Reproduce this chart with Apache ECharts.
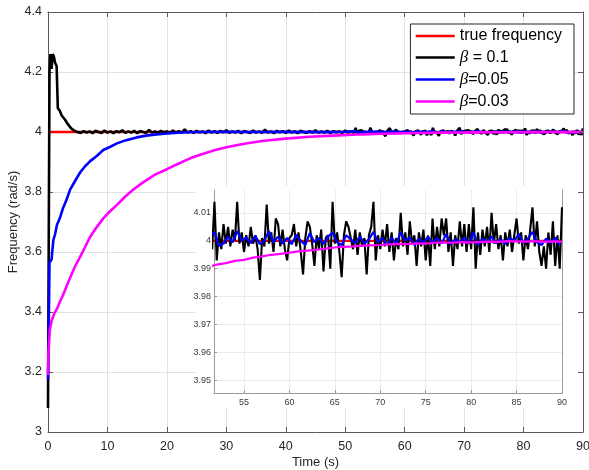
<!DOCTYPE html>
<html><head><meta charset="utf-8">
<script src="https://cdn.jsdelivr.net/npm/echarts@6/dist/echarts.min.js"></script>
<style>html,body{margin:0;padding:0;background:#fff}#c{width:589px;height:470px}</style>
</head><body><div id="c"></div>
<script>
// ---------- data ----------
const seriesNames = ['true frequency', 'β = 0.1', 'β=0.05', 'β=0.03'];
const mainXTicks = [0, 10, 20, 30, 40, 50, 60, 70, 80, 90];
const mainYTicks = [3, 3.2, 3.4, 3.6, 3.8, 4, 4.2, 4.4];

const trueT = [0, 90];
const trueV = [4, 4];

// beta = 0.1 : transient
const blackEarlyT = [0, 0.25, 0.4, 0.6, 0.8, 1.0, 1.2, 1.45, 1.65, 2.0, 2.3, 2.6, 2.9, 3.2, 3.5, 3.9, 4.3, 4.7];
const blackEarlyV = [3.08, 4.20, 4.26, 4.21, 4.26, 4.25, 4.23, 4.22, 4.08, 4.07, 4.055, 4.05, 4.04, 4.03, 4.022, 4.012, 4.006, 4.002];
// beta = 0.1 : t = 5 .. 51.5 every 0.5 s
const blackMidStart = 5, blackMidStep = 0.5;
const blackMidV = [4.001, 3.997, 4.003, 3.998, 4.002, 3.996, 4.004, 4.000, 3.997, 4.005,
  3.998, 4.002, 3.996, 4.003, 3.999, 4.006, 3.997, 4.002, 3.998, 4.004,
  3.996, 4.003, 4.000, 3.997, 4.007, 3.998, 4.002, 3.997, 4.004, 3.999,
  4.002, 3.996, 4.005, 3.998, 4.003, 3.997, 4.009, 3.998, 4.003, 3.997,
  4.004, 3.999, 4.002, 3.996, 4.005, 3.998, 4.003, 3.997, 4.004, 3.999,
  4.006, 3.997, 4.002, 3.998, 4.004, 3.996, 4.003, 4.000, 3.997, 4.005,
  3.998, 4.002, 3.997, 4.008, 3.998, 4.002, 3.996, 4.004, 3.999, 4.003,
  3.997, 4.005, 3.998, 4.002, 3.996, 4.004, 4.000, 3.997, 4.003, 3.998,
  4.006, 3.997, 4.002, 3.998, 4.004, 3.996, 4.003, 3.999, 4.002, 3.997,
  4.005, 3.998, 4.003, 3.997];
// beta = 0.1 : t = 51.75 .. 90 every 0.25 s
const blackLateStart = 51.75, blackLateStep = 0.25;
const blackLateV = [4.014, 3.993, 4.003, 3.997, 4.006, 3.999, 4.005, 3.998, 4.004, 4.000,
  4.014, 3.999, 4.003, 3.996, 4.002, 3.998, 4.005, 3.999, 4.002, 3.997,
  3.986, 4.001, 3.998, 4.013, 3.999, 4.003, 3.996, 4.008, 4.006, 3.998,
  4.004, 3.997, 3.993, 4.001, 4.002, 4.006, 3.998, 4.003, 3.996, 3.988,
  4.001, 4.007, 4.005, 3.999, 3.991, 4.002, 3.997, 4.004, 3.989, 4.001,
  4.002, 3.990, 4.014, 3.999, 4.003, 3.996, 3.987, 4.002, 4.007, 4.005,
  4.001, 3.997, 4.004, 3.995, 4.003, 3.998, 4.001, 3.988, 4.002, 4.005,
  4.014, 3.993, 4.002, 3.997,
  4.004, 3.998, 4.006, 3.996, 4.003, 3.993, 4.001, 3.997, 4.010, 3.998,
  4.003, 3.995, 4.007, 3.999, 4.002, 3.991, 4.003, 3.998, 4.004, 3.993,
  4.002, 3.991, 4.008, 3.997, 4.005, 3.998, 4.008, 4.002, 4.008, 3.996,
  4.003, 3.991, 4.002, 3.997, 4.007, 3.998, 4.006, 3.996, 4.006, 3.997,
  4.012, 3.990, 4.003, 3.995, 4.004, 3.998, 4.005, 3.996, 4.010, 3.999,
  4.006, 3.997, 4.002, 3.993, 4.003, 3.998, 4.004, 3.996, 4.002, 4.008,
  3.999, 4.003, 3.993, 4.002, 3.997, 4.004, 4.012, 3.998, 4.007, 3.996,
  3.991, 3.998, 3.990, 4.003, 3.995, 4.007, 3.991, 4.002, 3.990, 4.012];

// beta = 0.05
const blueEarlyT = [0, 0.1, 0.25, 0.6, 0.9, 1.2, 1.5, 2.0, 2.5, 3.1, 3.7, 4.5, 5.4, 6.2, 7.1, 8.2, 9.3, 10.4, 11.6, 13.0, 14.9, 16.5, 18.3, 20.5, 23.3, 26, 30, 35, 40, 45, 50];
const blueEarlyV = [3.175, 3.30, 3.565, 3.575, 3.64, 3.66, 3.69, 3.713, 3.745, 3.773, 3.807, 3.835, 3.865, 3.885, 3.903, 3.92, 3.94, 3.95, 3.962, 3.972, 3.982, 3.988, 3.992, 3.996, 3.999, 4.0, 4.0005, 4.0, 4.0005, 3.9995, 4.0005];
const blueLateStart = 51.75, blueLateStep = 0.5;
const blueLateV = [4.0030, 3.9982, 3.9990, 4.0015, 3.9995, 4.0035, 4.0000, 4.0012, 3.9992, 4.0018,
  3.9988, 4.0000, 4.0035, 3.9995, 4.0015, 3.9990, 4.0010, 3.9988, 4.0022, 4.0000,
  3.9985, 4.0028, 3.9995, 4.0010, 3.9988, 4.0015, 4.0030, 3.9995, 3.9985, 4.0020,
  4.0005, 3.9992, 4.0015, 3.9990, 4.0005, 4.0032, 3.9995, 4.0010, 3.9985, 4.0012,
  3.9988, 4.0030, 4.0000, 4.0012, 3.9985, 4.0008, 3.9992, 4.0015, 3.9995, 4.0010,
  3.9990, 4.0025, 3.9988, 4.0005, 3.9995, 4.0012, 3.9990, 4.0030, 3.9985, 4.0008,
  3.9995, 4.0015, 3.9992, 4.0005, 3.9990, 4.0010, 4.0000, 4.0025, 3.9992, 4.0008,
  4.0032, 3.9995, 3.9985, 4.0008, 3.9992, 4.0012, 3.9985];

// beta = 0.03
const pinkEarlyT = [0, 0.05, 0.3, 0.6, 1.1, 1.5, 2.0, 2.5, 3.0, 3.7, 4.5, 5.4, 6.2, 7.1, 8.2, 9.3, 10.4, 11.6, 13, 14.4, 16, 18, 20, 22, 24, 26, 28, 30, 33, 36, 40, 44, 48];
const pinkEarlyV = [3.19, 3.25, 3.34, 3.37, 3.397, 3.41, 3.434, 3.455, 3.48, 3.513, 3.55, 3.584, 3.615, 3.651, 3.683, 3.712, 3.735, 3.757, 3.785, 3.809, 3.832, 3.858, 3.876, 3.895, 3.913, 3.927, 3.939, 3.949, 3.961, 3.970, 3.978, 3.984, 3.988];
const pinkLateStart = 52, pinkLateStep = 1;
const pinkLateV = [3.9915, 3.9920, 3.9928, 3.9932, 3.9940, 3.9944, 3.9950, 3.9953, 3.9958, 3.9962,
  3.9965, 3.9968, 3.9972, 3.9976, 3.9978, 3.9980, 3.9983, 3.9984, 3.9985, 3.9987,
  3.9989, 3.9988, 3.9991, 3.9990, 3.9993, 3.9994, 3.9993, 3.9995, 3.9994, 3.9996,
  3.9997, 3.9996, 3.9999, 3.9998, 3.9997, 3.9999, 3.9996, 3.9998, 3.9997];

// ---------- build ----------
function zip(ts, vs) { return vs.map((v, i) => [ts[i], v]); }
function sampled(start, step, vs) { return vs.map((v, i) => [+(start + i * step).toFixed(4), v]); }

const trueData = zip(trueT, trueV);
const blackData = zip(blackEarlyT, blackEarlyV).concat(sampled(blackMidStart, blackMidStep, blackMidV), sampled(blackLateStart, blackLateStep, blackLateV));
const blueData = zip(blueEarlyT, blueEarlyV).concat(sampled(blueLateStart, blueLateStep, blueLateV));
const pinkData = zip(pinkEarlyT, pinkEarlyV).concat(sampled(pinkLateStart, pinkLateStep, pinkLateV));
const allData = [trueData, blackData, blueData, pinkData];
const colors = ['#ff0000', '#000000', '#0000ff', '#ff00ff'];

const FONT = '"Liberation Sans", Arial, Helvetica, sans-serif';
const AX = '#5a5a5a';
const GRID = '#e2e2e2';
const INAX = '#9a9a9a';

const series = [];
allData.forEach((d, i) => {
  series.push({ name: seriesNames[i], type: 'line', xAxisIndex: 0, yAxisIndex: 0, data: d,
    symbol: 'none', showSymbol: false, z: 2, lineStyle: { color: colors[i], width: 2.6 }, itemStyle: { color: colors[i] } });
});
allData.forEach((d, i) => {
  series.push({ name: seriesNames[i], type: 'line', xAxisIndex: 2, yAxisIndex: 2, data: d,
    symbol: 'none', showSymbol: false, z: 6, clip: true, lineStyle: { color: colors[i], width: i === 1 ? 2.1 : 2.2 }, itemStyle: { color: colors[i] } });
});

const chart = echarts.init(document.getElementById('c'), null, { renderer: 'canvas' });
chart.setOption({
  animation: false,
  backgroundColor: '#ffffff',
  textStyle: { fontFamily: FONT },
  grid: [
    { left: 48, right: 6, top: 12, bottom: 38, containLabel: false, outerBoundsMode: 'none' },
    { left: 214, right: 27, top: 190, bottom: 77, containLabel: false, outerBoundsMode: 'none' }
  ],
  graphic: [
    { type: 'rect', z: 1, shape: { x: 195, y: 186, width: 387, height: 222 }, style: { fill: '#ffffff' }, silent: true }
  ],
  legend: {
    data: seriesNames, orient: 'vertical', right: 15, top: 24,
    itemWidth: 39, itemHeight: 16, itemGap: 5,
    padding: [4, 12, 4, 4],
    borderColor: '#262626', borderWidth: 1, backgroundColor: '#ffffff', z: 10,
    itemStyle: { opacity: 0 },
    lineStyle: { width: 2.6 },
    textStyle: { fontSize: 16, color: '#000', fontFamily: FONT,
      rich: { i: { fontStyle: 'italic', fontFamily: '"Liberation Serif", serif', fontSize: 17, color: '#000' } } },
    formatter: n => n.replace('β', '{i|β}')
  },
  xAxis: [
    { gridIndex: 0, type: 'value', min: mainXTicks[0], max: mainXTicks[mainXTicks.length - 1], interval: 10,
      axisLine: { onZero: false, lineStyle: { color: AX } },
      axisTick: { inside: true, length: 5, lineStyle: { color: AX } },
      axisLabel: { color: '#262626', fontSize: 12.5, margin: 8 },
      splitLine: { show: true, lineStyle: { color: GRID } },
      name: 'Time (s)', nameLocation: 'middle', nameGap: 24, nameMoveOverlap: false,
      nameTextStyle: { color: '#262626', fontSize: 13 } },
    { gridIndex: 0, type: 'value', position: 'top', min: 0, max: 90, interval: 10, z: 5,
      axisLine: { onZero: false, lineStyle: { color: AX } },
      axisTick: { inside: true, length: 5, lineStyle: { color: AX } },
      axisLabel: { show: false }, splitLine: { show: false } },
    { gridIndex: 1, type: 'value', min: 51.7, max: 90, splitNumber: 8, minInterval: 5, maxInterval: 5, z: 5,
      axisLine: { onZero: false, lineStyle: { color: INAX } },
      axisTick: { inside: true, length: 3, lineStyle: { color: INAX } },
      axisLabel: { color: '#3a3a3a', fontSize: 9, margin: 5, showMinLabel: false },
      splitLine: { show: true, showMinLine: false, showMaxLine: false, lineStyle: { color: '#ebebeb' } } }
  ],
  yAxis: [
    { gridIndex: 0, type: 'value', min: mainYTicks[0], max: mainYTicks[mainYTicks.length - 1], interval: 0.2,
      axisLine: { onZero: false, lineStyle: { color: AX } },
      axisTick: { inside: true, length: 5, lineStyle: { color: AX } },
      axisLabel: { color: '#262626', fontSize: 12.5, margin: 6 },
      splitLine: { show: true, lineStyle: { color: GRID } },
      name: 'Frequency (rad/s)', nameLocation: 'middle', nameGap: 28, nameMoveOverlap: false,
      nameTextStyle: { color: '#262626', fontSize: 13 } },
    { gridIndex: 0, type: 'value', position: 'right', min: 3, max: 4.4, interval: 0.2, z: 5,
      axisLine: { show: true, onZero: false, lineStyle: { color: AX } },
      axisTick: { show: true, inside: true, length: 5, lineStyle: { color: AX } },
      axisLabel: { show: false }, splitLine: { show: false } },
    { gridIndex: 1, type: 'value', min: 3.9455, max: 4.0182, splitNumber: 7, minInterval: 0.01, maxInterval: 0.01, z: 5,
      axisLine: { show: true, onZero: false, lineStyle: { color: INAX } },
      axisTick: { show: true, inside: true, length: 3, lineStyle: { color: INAX } },
      axisLabel: { color: '#3a3a3a', fontSize: 9, margin: 3, showMinLabel: false, showMaxLabel: false },
      splitLine: { show: true, showMinLine: false, showMaxLine: false, lineStyle: { color: '#ebebeb' } } },
    { gridIndex: 1, type: 'value', position: 'right', min: 3.9455, max: 4.0182, z: 5,
      axisLine: { show: true, onZero: false, lineStyle: { color: INAX } },
      axisTick: { show: false }, axisLabel: { show: false }, splitLine: { show: false } }
  ],
  series: series
});
</script></body></html>
